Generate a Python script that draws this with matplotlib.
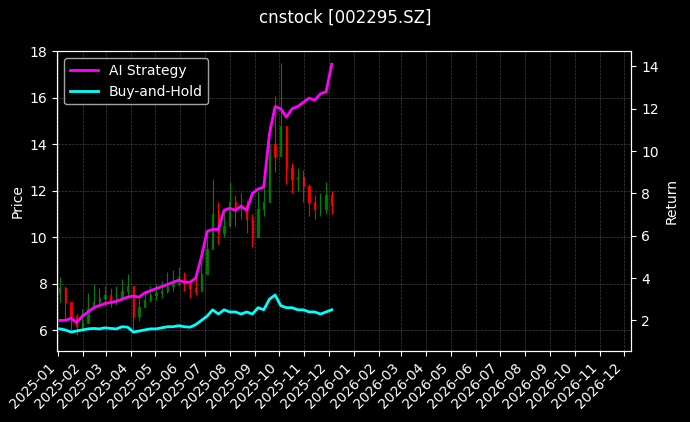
import matplotlib
matplotlib.use("Agg")
import matplotlib.pyplot as plt
import matplotlib.dates as mdates
import pandas as pd
import numpy as np

dates = pd.date_range("2025-01-03", periods=49, freq="W-FRI")
close = [7.8,7.2,6.6,6.2, 6.3,6.9,7.2,7.4, 7.5,7.3,7.4,7.7, 7.9,6.6,7.0,7.3,
         7.5,7.6,7.7,7.9, 8.0,8.3,8.0,7.8,7.7, 8.4,9.5,11.0,10.2, 10.5,11.5,11.2,11.4,
         10.8,10.0,11.2,11.5, 14.0,13.5,14.8,13.0, 12.5,12.6,12.2,11.5, 11.2,11.2,11.8,11.4]
opens = [7.6]+close[:-1]
high = [8.3,7.9,7.1,6.7, 6.9,7.6,8.0,7.8, 7.9,7.8,7.9,8.2, 8.4,7.9,7.4,7.7,
        7.9,8.0,8.1,8.5, 8.6,8.7,8.5,8.2,8.3, 9.0,10.2,12.5,11.5, 11.2,12.4,11.8,11.9,
        11.6,11.0,12.0,12.5, 14.8,16.1,17.5,14.5, 13.2,13.0,12.9,12.3, 11.8,11.9,12.4,12.0]
low = [7.2,6.5,6.0,5.8, 6.0,6.3,6.9,7.0, 7.1,7.0,7.1,7.4, 7.4,5.9,6.4,7.0,
       7.2,7.3,7.4,7.6, 7.7,7.9,7.7,7.4,7.5, 7.8,8.7,9.6,9.7, 10.0,10.8,10.5,10.8,
       10.2,9.6,10.5,10.9, 11.6,12.8,13.5,12.3, 11.9,12.0,11.5,10.9, 10.8,10.9,11.0,11.0]
ai_ret = [2.0,2.0,2.1,1.9, 2.2,2.4,2.6,2.7, 2.8,2.85,2.9,3.0, 3.1,3.15,3.1,3.3,
          3.4,3.5,3.6,3.7, 3.8,3.9,3.8,3.8,4.0, 5.0,6.2,6.3,6.3, 7.2,7.3,7.2,7.4,
          7.2,8.0,8.2,8.3, 10.8,12.1,12.0,11.6, 12.0,12.1,12.3,12.5, 12.4,12.7,12.8,14.1]
bh_ret = [1.6,1.55,1.45,1.5, 1.55,1.6,1.62,1.6, 1.65,1.62,1.6,1.7, 1.68,1.45,1.5,1.55,
          1.6,1.6,1.65,1.7, 1.7,1.75,1.7,1.68,1.8, 2.0,2.2,2.5,2.3, 2.5,2.4,2.4,2.3,
          2.4,2.3,2.6,2.5, 3.0,3.2,2.7,2.6, 2.6,2.5,2.5,2.4, 2.4,2.3,2.4,2.5]

plt.style.use("dark_background")
fig, ax = plt.subplots(figsize=(6.9, 4.22), dpi=100)
x = mdates.date2num(dates)
for xi, o, h, l, c in zip(x, opens, high, low, close):
    col = "green" if c >= o else "red"
    ax.vlines(xi, l, h, color=col, linewidth=0.8)
    ax.add_patch(plt.Rectangle((xi-0.8, min(o, c)), 1.6, abs(c-o), color=col, alpha=0.8))
ax.set_ylim(5.1, 18)
ax.set_ylabel("Price")
ax.set_xlim(mdates.date2num(pd.Timestamp("2024-12-31")), mdates.date2num(pd.Timestamp("2026-12-10")))
ax.xaxis.set_major_locator(mdates.MonthLocator())
ax.xaxis.set_major_formatter(mdates.DateFormatter("%Y-%m"))
plt.setp(ax.get_xticklabels(), rotation=45, ha="right")
ax.grid(True, linestyle="--", linewidth=0.5, color="gray", alpha=0.5)

ax2 = ax.twinx()
ax2.plot(dates, ai_ret, color="magenta", linewidth=2, label="AI Strategy")
ax2.plot(dates, bh_ret, color="cyan", linewidth=2, label="Buy-and-Hold")
ax2.set_ylim(0.55, 14.7)
ax2.set_ylabel("Return")
ax2.legend(loc="upper left")
fig.suptitle("cnstock [002295.SZ]")
fig.subplots_adjust(left=0.083, right=0.915, top=0.878, bottom=0.168)
fig.savefig("out.png")
